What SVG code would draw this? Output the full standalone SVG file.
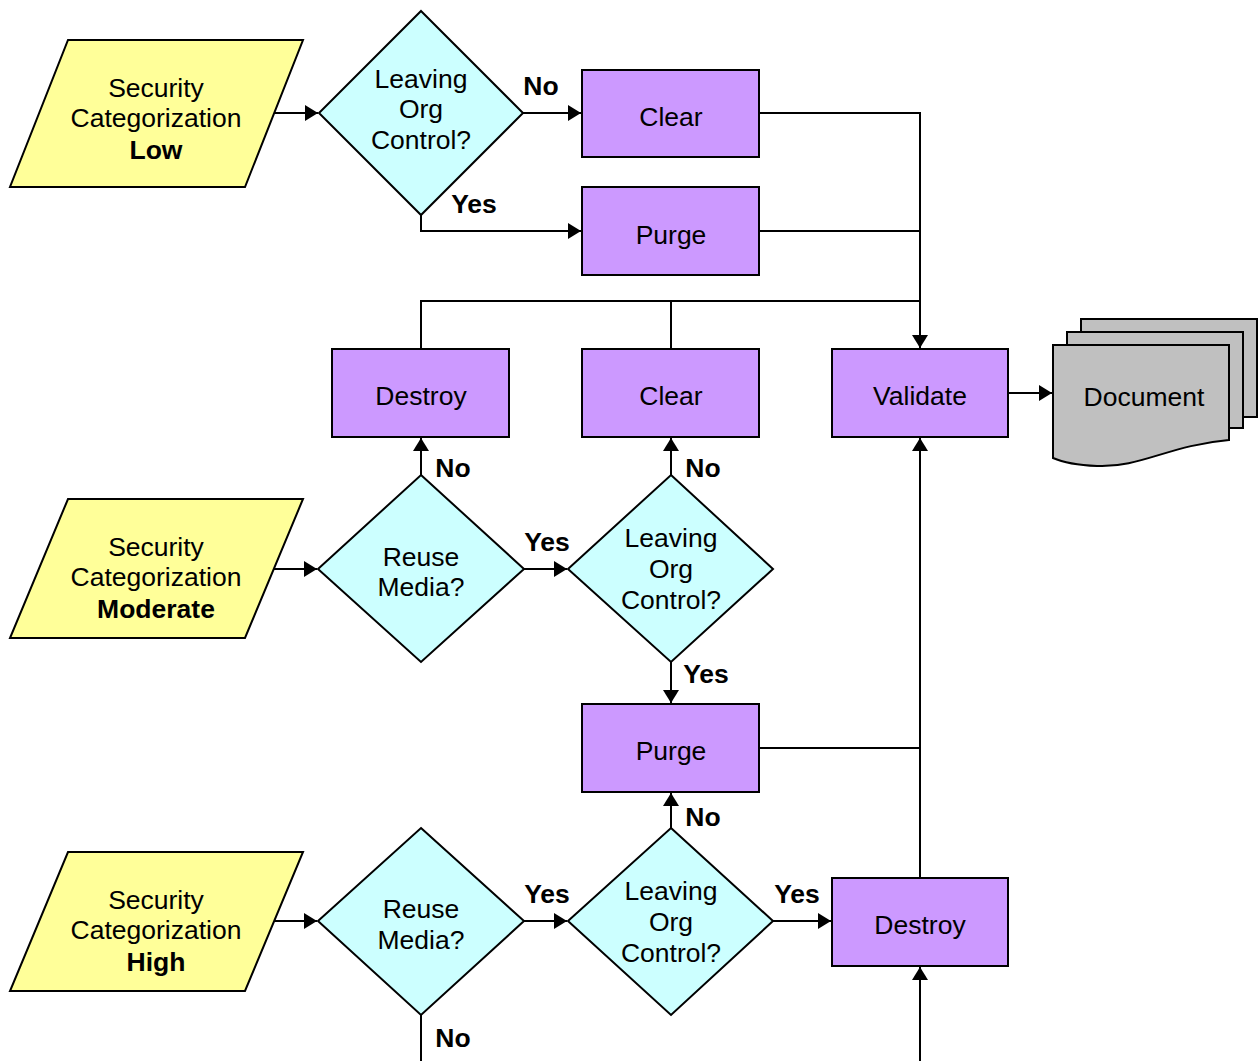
<svg xmlns="http://www.w3.org/2000/svg" width="1258" height="1061" viewBox="0 0 1258 1061">
<style>
text{font-family:"Liberation Sans",Arial,sans-serif;font-size:26.5px;fill:#000;text-anchor:middle}
.b{font-weight:bold}
.in{fill:#FFFF99;stroke:#000;stroke-width:2}
.dec{fill:#CCFFFF;stroke:#000;stroke-width:2}
.proc{fill:#CC99FF;stroke:#000;stroke-width:2}
.doc{fill:#C0C0C0;stroke:#000;stroke-width:2}
.c{fill:none;stroke:#000;stroke-width:2}
</style>
<defs>
<marker id="a" markerUnits="userSpaceOnUse" markerWidth="14" markerHeight="16" refX="13" refY="8" orient="auto">
<path d="M0,0 L13,8 L0,16 Z" fill="#000"/>
</marker>
</defs>
<rect width="1258" height="1061" fill="#fff"/>
<g id="connectors">
<path class="c" d="M273,113 H318" marker-end="url(#a)"/>
<path class="c" d="M523,113 H581" marker-end="url(#a)"/>
<path class="c" d="M421,215 V231 H581" marker-end="url(#a)"/>
<path class="c" d="M759,113 H920 V348" marker-end="url(#a)"/>
<path class="c" d="M759,231 H920"/>
<path class="c" d="M421,349 V301 H920"/>
<path class="c" d="M671,349 V301"/>
<path class="c" d="M1008,393 H1052" marker-end="url(#a)"/>
<path class="c" d="M273,569 H317" marker-end="url(#a)"/>
<path class="c" d="M421,475 V438" marker-end="url(#a)"/>
<path class="c" d="M524,569 H567" marker-end="url(#a)"/>
<path class="c" d="M671,475 V438" marker-end="url(#a)"/>
<path class="c" d="M671,662 V703" marker-end="url(#a)"/>
<path class="c" d="M759,748 H920"/>
<path class="c" d="M920,878 V438" marker-end="url(#a)"/>
<path class="c" d="M273,921 H317" marker-end="url(#a)"/>
<path class="c" d="M524,921 H567" marker-end="url(#a)"/>
<path class="c" d="M671,828 V793" marker-end="url(#a)"/>
<path class="c" d="M773,921 H831" marker-end="url(#a)"/>
<path class="c" d="M421,1015 V1061"/>
<path class="c" d="M920,1061 V967" marker-end="url(#a)"/>
<text class="b" x="541" y="95">No</text>
<text class="b" x="474" y="213">Yes</text>
<text class="b" x="453" y="477">No</text>
<text class="b" x="703" y="477">No</text>
<text class="b" x="547" y="551">Yes</text>
<text class="b" x="706" y="683">Yes</text>
<text class="b" x="703" y="826">No</text>
<text class="b" x="547" y="903">Yes</text>
<text class="b" x="797" y="903">Yes</text>
<text class="b" x="453" y="1047">No</text>
</g>
<g id="sec-low">
<polygon class="in" points="68,40 303,40 245,187 10,187"/>
<text x="156" y="97">Security</text>
<text x="156" y="127">Categorization</text>
<text class="b" x="156" y="159">Low</text>
</g>
<g id="dec-low">
<polygon class="dec" points="421,11 523,113 421,215 319,113"/>
<text x="421" y="88">Leaving</text>
<text x="421" y="118">Org</text>
<text x="421" y="149">Control?</text>
</g>
<g id="clear-low">
<rect class="proc" x="582" y="70" width="177" height="87"/>
<text x="671" y="126">Clear</text>
</g>
<g id="purge-low">
<rect class="proc" x="582" y="187" width="177" height="88"/>
<text x="671" y="244">Purge</text>
</g>
<g id="destroy-mod">
<rect class="proc" x="332" y="349" width="177" height="88"/>
<text x="421" y="405">Destroy</text>
</g>
<g id="clear-mod">
<rect class="proc" x="582" y="349" width="177" height="88"/>
<text x="671" y="405">Clear</text>
</g>
<g id="validate">
<rect class="proc" x="832" y="349" width="176" height="88"/>
<text x="920" y="405">Validate</text>
</g>
<g id="document">
<path class="doc" d="M1081,319 H1257 V417 H1081 Z"/>
<path class="doc" d="M1067,332 H1243 V428 H1067 Z"/>
<path class="doc" d="M1053,345 H1229 V440 C1170,445 1140,468 1097,466 C1075,465 1062,462 1053,458 Z"/>
<text x="1144" y="406">Document</text>
</g>
<g id="sec-mod">
<polygon class="in" points="68,499 303,499 245,638 10,638"/>
<text x="156" y="556">Security</text>
<text x="156" y="586">Categorization</text>
<text class="b" x="156" y="618">Moderate</text>
</g>
<g id="reuse-mod">
<polygon class="dec" points="421,475 524,569 421,662 318,569"/>
<text x="421" y="566">Reuse</text>
<text x="421" y="596">Media?</text>
</g>
<g id="leave-mod">
<polygon class="dec" points="671,475 773,569 671,662 568,569"/>
<text x="671" y="547">Leaving</text>
<text x="671" y="578">Org</text>
<text x="671" y="609">Control?</text>
</g>
<g id="purge-mod">
<rect class="proc" x="582" y="704" width="177" height="88"/>
<text x="671" y="760">Purge</text>
</g>
<g id="sec-high">
<polygon class="in" points="68,852 303,852 245,991 10,991"/>
<text x="156" y="909">Security</text>
<text x="156" y="939">Categorization</text>
<text class="b" x="156" y="971">High</text>
</g>
<g id="reuse-high">
<polygon class="dec" points="421,828 524,921 421,1015 318,921"/>
<text x="421" y="918">Reuse</text>
<text x="421" y="949">Media?</text>
</g>
<g id="leave-high">
<polygon class="dec" points="671,828 773,921 671,1015 568,921"/>
<text x="671" y="900">Leaving</text>
<text x="671" y="931">Org</text>
<text x="671" y="962">Control?</text>
</g>
<g id="destroy-high">
<rect class="proc" x="832" y="878" width="176" height="88"/>
<text x="920" y="934">Destroy</text>
</g>
</svg>
